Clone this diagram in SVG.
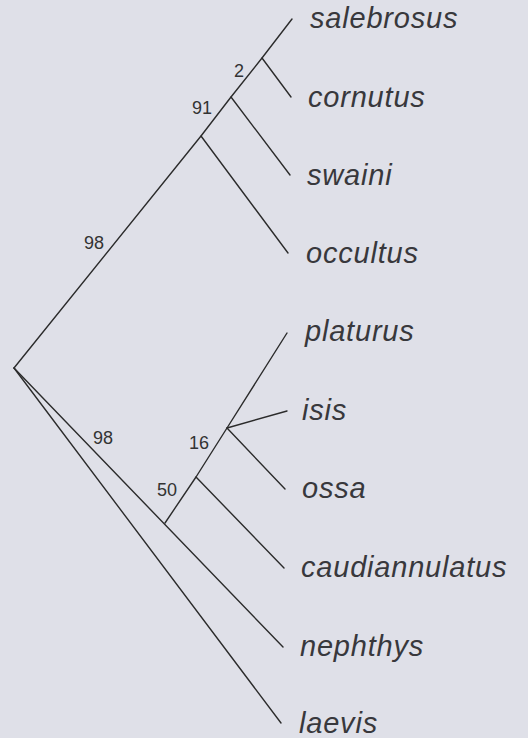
<svg xmlns="http://www.w3.org/2000/svg" width="528" height="738" viewBox="0 0 528 738">
<style>
.bg{fill:#dfe0e8}
.br{stroke:#2b2b2b;stroke-width:1.4;fill:none;stroke-linecap:round;stroke-linejoin:round}
.tx{font-family:"Liberation Sans",Arial,sans-serif;font-style:italic;font-size:29px;letter-spacing:0.8px;fill:#38383c}
.bs{font-family:"Liberation Sans",Arial,sans-serif;font-size:18px;fill:#333;text-anchor:middle}
</style>
<rect class="bg" x="0" y="0" width="528" height="738"/>
<g id="connectors">
<polyline class="br" points="14,368 201,136 231,97 262,58 292,19"/>
<line class="br" x1="262" y1="58" x2="291" y2="97"/>
<line class="br" x1="231" y1="97" x2="290" y2="175"/>
<line class="br" x1="201" y1="136" x2="288" y2="253"/>
<line class="br" x1="14" y1="368" x2="281" y2="723"/>
<line class="br" x1="14" y1="368" x2="283" y2="647"/>
<polyline class="br" points="165,523 196,477 227,428 287,333"/>
<line class="br" x1="227" y1="428" x2="287" y2="411"/>
<line class="br" x1="227" y1="428" x2="285" y2="489"/>
<line class="br" x1="196" y1="477" x2="284" y2="568"/>
</g>
<g id="support">
<text class="bs" x="239" y="77">2</text>
<text class="bs" x="202" y="114">91</text>
<text class="bs" x="94" y="249">98</text>
<text class="bs" x="103" y="444">98</text>
<text class="bs" x="199" y="449">16</text>
<text class="bs" x="167" y="496">50</text>
</g>
<g id="salebrosus"><text class="tx" x="310" y="28">salebrosus</text></g>
<g id="cornutus"><text class="tx" x="308" y="107">cornutus</text></g>
<g id="swaini"><text class="tx" x="307" y="185">swaini</text></g>
<g id="occultus"><text class="tx" x="306" y="263">occultus</text></g>
<g id="platurus"><text class="tx" x="305" y="341">platurus</text></g>
<g id="isis"><text class="tx" x="302" y="420">isis</text></g>
<g id="ossa"><text class="tx" x="302" y="498">ossa</text></g>
<g id="caudiannulatus"><text class="tx" x="301" y="577">caudiannulatus</text></g>
<g id="nephthys"><text class="tx" x="300" y="656">nephthys</text></g>
<g id="laevis"><text class="tx" x="299" y="733">laevis</text></g>
</svg>
